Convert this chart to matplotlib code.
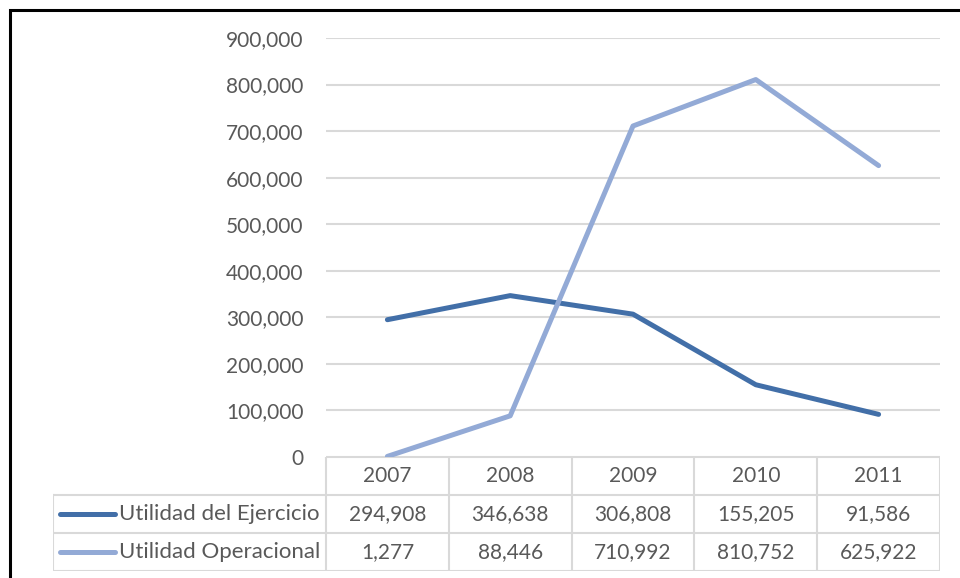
import matplotlib.pyplot as plt
from matplotlib.patches import Rectangle
from matplotlib.ticker import FuncFormatter

# Datos
anios = ['2007', '2008', '2009', '2010', '2011']
series = ['Utilidad del Ejercicio', 'Utilidad Operacional']
ejercicio = [294908, 346638, 306808, 155205, 91586]
operacional = [1277, 88446, 710992, 810752, 625922]
y_ticks = [0, 100000, 200000, 300000, 400000, 500000, 600000, 700000, 800000, 900000]

colores = ['#426FA8', '#93AAD6']
gris_txt = '#595959'
gris_lin = '#D9D9D9'

plt.rcParams['font.family'] = ['Lato', 'DejaVu Sans']

W, H = 960, 578
fig = plt.figure(figsize=(W / 100, H / 100), dpi=100)

# zona del grafico (en pixeles)
x0, x1 = 326, 940
y_top, y_bot = 38, 457
ax = fig.add_axes([x0 / W, 1 - y_bot / H, (x1 - x0) / W, (y_bot - y_top) / H])

x = list(range(len(anios)))
ax.plot(x, ejercicio, color=colores[0], linewidth=3.6, solid_capstyle='round', zorder=3)
ax.plot(x, operacional, color=colores[1], linewidth=3.6, solid_capstyle='round', zorder=3)

ax.set_xlim(-0.5, len(anios) - 0.5)
ax.set_ylim(0, 900000)
ax.set_yticks(y_ticks)
ax.yaxis.set_major_formatter(FuncFormatter(lambda v, p: f'{v:,.0f}'))
ax.set_xticks([])
ax.tick_params(axis='y', length=0, pad=16, labelsize=15, labelcolor=gris_txt)
ax.grid(axis='y', color=gris_lin, linewidth=1.5)
ax.set_axisbelow(True)
for s in ax.spines.values():
    s.set_visible(False)

# tabla de datos
col_w = (x1 - x0) / len(anios)
t_left = 53
t_bottom = 571
tab = fig.add_axes([t_left / W, 1 - t_bottom / H, (x1 - t_left) / W, (t_bottom - y_bot) / H])
tab.set_xlim(-0.5 - (x0 - t_left) / col_w, len(anios) - 0.5)
tab.set_ylim(3, 0)
tab.axis('off')
xl = tab.get_xlim()[0]
lk = dict(color=gris_lin, linewidth=1.5)
# lineas horizontales
tab.plot([-0.5, len(anios) - 0.5], [0, 0], **lk)
for r in [1, 2, 3]:
    tab.plot([xl, len(anios) - 0.5], [r, r], **lk)
# lineas verticales
for c in range(len(anios) + 1):
    tab.plot([c - 0.5, c - 0.5], [0, 3], **lk)
tab.plot([xl, xl], [1, 3], **lk)

for i, a in enumerate(anios):
    tab.text(i, 0.5, a, ha='center', va='center', fontsize=15, color=gris_txt)
    tab.text(i, 1.5, f'{ejercicio[i]:,}', ha='center', va='center', fontsize=15, color=gris_txt)
    tab.text(i, 2.5, f'{operacional[i]:,}', ha='center', va='center', fontsize=15, color=gris_txt)

for r, (nombre, col) in enumerate(zip(series, colores)):
    k0 = xl + (60 - t_left) / col_w
    k1 = xl + (115 - t_left) / col_w
    tab.plot([k0, k1], [r + 1.5, r + 1.5], color=col, linewidth=3.6, solid_capstyle='round')
    tab.text(xl + (119 - t_left) / col_w, r + 1.5, nombre, ha='left', va='center',
             fontsize=16, color=gris_txt)

# marco negro
fig.patches.append(Rectangle((9.5 / W, -0.1), 1.2, 1 - 9.5 / H + 0.1, transform=fig.transFigure,
                             fill=False, edgecolor='black', linewidth=2.2))

fig.savefig('out.png', dpi=100)
